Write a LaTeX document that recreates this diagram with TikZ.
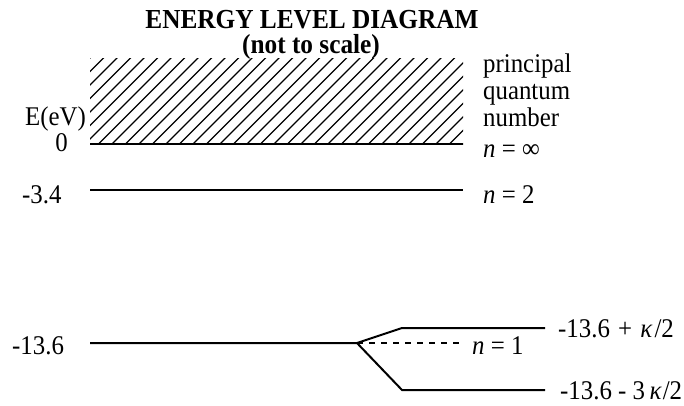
\documentclass[tikz,border=0pt]{standalone}
\usepackage{fontspec}
\setmainfont{Liberation Serif}[FakeStretch=0.92]
\usetikzlibrary{calc}
\tikzset{
  lbl/.style={font=\fontsize{27}{27}\selectfont, inner sep=0pt, anchor=base west},
  lblr/.style={lbl, anchor=base east},
  ttl/.style={font=\fontsize{27.5}{30}\selectfont\bfseries, inner sep=0pt, anchor=base},
  levelline/.style={line width=2pt},
  splitline/.style={line width=2pt, line join=miter},
  hatchline/.style={line width=1.3pt},
  dashline/.style={line width=1.3pt, dash pattern=on 6pt off 6pt}
}
\begin{document}
\begin{tikzpicture}[x=1pt, y=-1pt]
  \useasboundingbox (0,0) rectangle (684,405);
  % title
  \node[ttl] (title) at (312,28) {ENERGY LEVEL DIAGRAM};
  \node[ttl] (subtitle) at (311,53) {(not to scale)};
  % continuum above E = 0
  \begin{scope}
    \clip (90,58) rectangle (463,144);
    \foreach \k in {0,...,34}
      \draw[hatchline] (90+13.5*\k-100,144+14) -- ++(120,-120);
  \end{scope}
  % level ends
  \coordinate (zeroL) at (90,144);   \coordinate (zeroR) at (463,144);
  \coordinate (twoL) at (90,190);    \coordinate (twoR) at (463,190);
  \coordinate (oneL) at (90,343);    \coordinate (split) at (357,343);
  \coordinate (oneR) at (460,343);
  \coordinate (upK) at (402,328);    \coordinate (upR) at (545,328);
  \coordinate (loK) at (402,390);    \coordinate (loR) at (545,390);
  \draw[levelline] (zeroL) -- (zeroR);
  \draw[levelline] (twoL) -- (twoR);
  \draw[splitline] (oneL) -- (split) -- (upK) -- (upR);
  \draw[splitline] (split) -- (loK) -- (loR);
  \draw[dashline] (split) -- (oneR);
  % energies
  \node[lbl] (eunit) at (25,125) {E(eV)};
  \node[lblr] (ezero) at (68,151) {0};
  \node[lbl] (etwo) at (22,203) {-3.4};
  \node[lbl] (eone) at (12,354) {-13.6};
  \node[lbl] (eup) at (558,337) {-13.6\kern2pt{} +\kern2pt{} \textit{κ}\kern2pt/2};
  \node[lbl] (elo) at (560,399) {-13.6 - 3\,\textit{κ}\kern1pt/2};
  % quantum numbers
  \node[lbl, align=left, anchor=north west] (pqn) at (483,54) {principal\\quantum\\number};
  \node[lbl] (ninf) at (483,157) {\textit{n} = ∞};
  \node[lbl] (ntwo) at (483,203) {\textit{n} = 2};
  \node[lbl] (none) at (472,354) {\textit{n} = 1};
\end{tikzpicture}
\end{document}
